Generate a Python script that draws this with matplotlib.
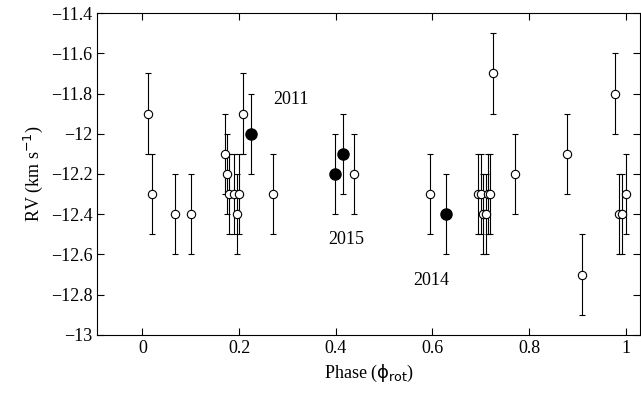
import matplotlib
matplotlib.use("Agg")
import matplotlib.pyplot as plt

plt.rcParams['font.family'] = ['Liberation Serif', 'DejaVu Serif']

# open circles
phase_open = [0.012, 0.02, 0.068, 0.10, 0.17, 0.175, 0.18, 0.19, 0.195, 0.20, 0.208, 0.27,
              0.437, 0.595, 0.695, 0.70, 0.705, 0.71, 0.715, 0.72, 0.725, 0.77, 0.878,
              0.91, 0.978, 0.985, 0.993, 1.0]
rv_open = [-11.9, -12.3, -12.4, -12.4, -12.1, -12.2, -12.3, -12.3, -12.4, -12.3, -11.9, -12.3,
           -12.2, -12.3, -12.3, -12.3, -12.4, -12.4, -12.3, -12.3, -11.7, -12.2, -12.1,
           -12.7, -11.8, -12.4, -12.4, -12.3]
err_open = [0.2] * len(phase_open)

# filled circles
phase_fill = [0.225, 0.398, 0.415, 0.628]
rv_fill = [-12.0, -12.2, -12.1, -12.4]
err_fill = [0.2, 0.2, 0.2, 0.2]

fig, ax = plt.subplots(figsize=(6.41, 4.07), dpi=100)
ax.errorbar(phase_open, rv_open, yerr=err_open, fmt='o', mfc='white', mec='black',
            ecolor='black', ms=6, mew=0.8, elinewidth=0.8, capsize=2.5, capthick=0.8)
ax.errorbar(phase_fill, rv_fill, yerr=err_fill, fmt='o', mfc='black', mec='black',
            ecolor='black', ms=8, elinewidth=0.8, capsize=2.5, capthick=0.8)

ax.text(0.27, -11.85, '2011', fontsize=13)
ax.text(0.385, -12.55, '2015', fontsize=13)
ax.text(0.56, -12.75, '2014', fontsize=13)

ax.set_xlim(-0.093, 1.03)
ax.set_ylim(-13, -11.4)
ax.set_xticks([0, 0.2, 0.4, 0.6, 0.8, 1])
ax.set_xticklabels(['0', '0.2', '0.4', '0.6', '0.8', '1'])
ax.set_yticks([-13, -12.8, -12.6, -12.4, -12.2, -12, -11.8, -11.6, -11.4])
ax.set_yticklabels(['\u221213', '\u221212.8', '\u221212.6', '\u221212.4', '\u221212.2',
                    '\u221212', '\u221211.8', '\u221211.6', '\u221211.4'])
ax.tick_params(direction='in', top=True, right=True, labelsize=13, length=5)
ax.set_xlabel(r'Phase ($\mathrm{\phi_{rot}}$)', fontsize=13)
ax.set_ylabel(r'RV (km s$^{-1}$)', fontsize=13)

fig.subplots_adjust(left=0.152, right=0.999, top=0.968, bottom=0.177)
fig.savefig('out.png')
